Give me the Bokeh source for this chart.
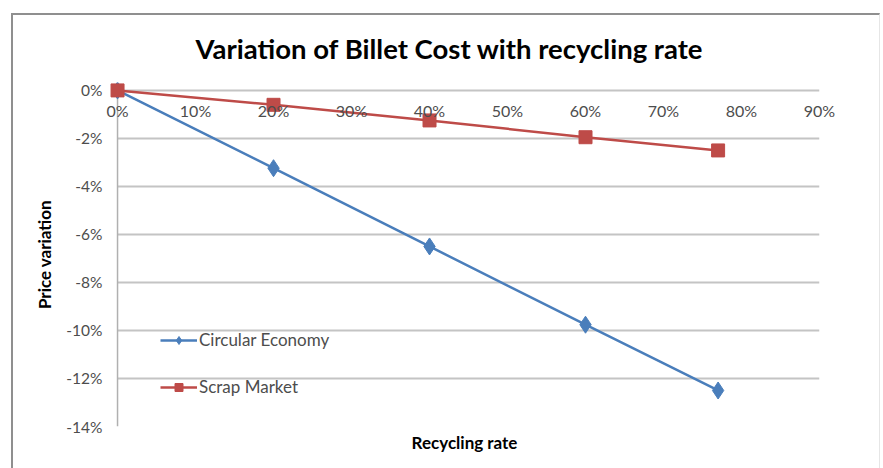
from bokeh.plotting import figure
from bokeh.models import Range1d, NumeralTickFormatter, FixedTicker, Legend, LegendItem, Title
from bokeh.embed import file_html
from bokeh.resources import INLINE

recycling = [0.0, 0.20, 0.40, 0.60, 0.77]
circular_economy = [0.0, -0.0324, -0.065, -0.0976, -0.125]
scrap_market = [0.0, -0.006, -0.0125, -0.0195, -0.025]
x_ticks = [0.0, 0.1, 0.2, 0.3, 0.4, 0.5, 0.6, 0.7, 0.8, 0.9]
y_ticks = [0.0, -0.02, -0.04, -0.06, -0.08, -0.10, -0.12, -0.14]

FONT = "Lato"
TXT = "#4d4d4d"
GRID = "#c4c4c4"
AXIS = "#b0b0b0"

# small padding so the corner markers are not clipped by the plot frame
XPAD = 0.0103
YPAD = 0.0033

p = figure(width=869, height=455, output_backend="svg", toolbar_location=None,
           x_range=Range1d(x_ticks[0] - XPAD, x_ticks[-1]),
           y_range=Range1d(y_ticks[-1], y_ticks[0] + YPAD),
           x_axis_location="above",
           min_border_left=96, min_border_right=63, min_border_top=67, min_border_bottom=44)
p.margin = (13, 0, 0, 11)
p.styles = {"border-top": "2px solid #8f8f8f", "border-left": "2px solid #8f8f8f",
            "border-right": "1px solid #e6e6e6"}
p.outline_line_color = None
p.background_fill_color = "white"

p.title.text = "Variation of Billet Cost with recycling rate"
p.title.text_font = FONT
p.title.text_font_size = "27.5px"
p.title.text_font_style = "bold"
p.title.text_color = "#000000"
p.title.align = "left"
p.title.offset = 86
p.title.standoff = 32
p.title.vertical_align = "top"

# x axis labels drawn just below the 0% line
xa = p.xaxis[0]
xa.ticker = FixedTicker(ticks=x_ticks)
xa.formatter = NumeralTickFormatter(format="0%")
xa.axis_line_color = None
xa.major_tick_line_color = None
xa.minor_tick_line_color = None
xa.major_tick_out = 0
xa.major_label_standoff = -37
xa.major_label_text_font = FONT
xa.major_label_text_font_size = "16px"
xa.major_label_text_color = TXT

ya = p.yaxis[0]
ya.ticker = FixedTicker(ticks=y_ticks)
ya.formatter = NumeralTickFormatter(format="0%")
ya.axis_line_color = None
ya.major_tick_line_color = None
ya.minor_tick_line_color = None
ya.major_tick_out = 0
ya.major_label_standoff = 7
ya.major_label_text_font = FONT
ya.major_label_text_font_size = "15.5px"
ya.major_label_text_color = TXT
ya.axis_label = "Price variation"
ya.axis_label_text_font = FONT
ya.axis_label_text_font_size = "17px"
ya.axis_label_text_font_style = "bold"
ya.axis_label_text_color = "#000000"
ya.axis_label_standoff = 8

p.xgrid.grid_line_color = None
p.ygrid.ticker = FixedTicker(ticks=y_ticks)
p.ygrid.grid_line_color = GRID
p.ygrid.grid_line_width = 2
p.ygrid.cross_bounds = (x_ticks[0], x_ticks[-1])

# vertical axis line at 0%
p.segment(x0=[x_ticks[0]], y0=[y_ticks[-1]], x1=[x_ticks[0]], y1=[y_ticks[0]],
          line_color=AXIS, line_width=1.5)

xt = Title(text="Recycling rate", align="center", text_font=FONT, text_font_size="17px",
           text_font_style="bold", text_color="#000000", standoff=7)
p.add_layout(xt, "below")

BLUE = "#4a7ebb"
RED = "#be4b48"
l1 = p.line(recycling, circular_economy, line_color=BLUE, line_width=2.5)
m1 = p.scatter(recycling, circular_economy, marker="diamond", size=17, fill_color=BLUE, line_color=BLUE)
l2 = p.line(recycling, scrap_market, line_color=RED, line_width=2.5)
m2 = p.scatter(recycling, scrap_market, marker="square", size=13, fill_color=RED, line_color=RED)

legend = Legend(items=[LegendItem(label="Circular Economy", renderers=[l1, m1]),
                       LegendItem(label="Scrap Market", renderers=[l2, m2])],
                location=(51, 29))
legend.border_line_color = None
legend.background_fill_alpha = 0
legend.padding = 0
legend.margin = 0
legend.spacing = 26
legend.glyph_width = 37
legend.glyph_height = 20
legend.label_height = 20
legend.label_standoff = 2
legend.label_text_font = FONT
legend.label_text_font_size = "17px"
legend.label_text_color = TXT
p.add_layout(legend, "center")

open("out.html", "w").write(file_html(p, INLINE))
